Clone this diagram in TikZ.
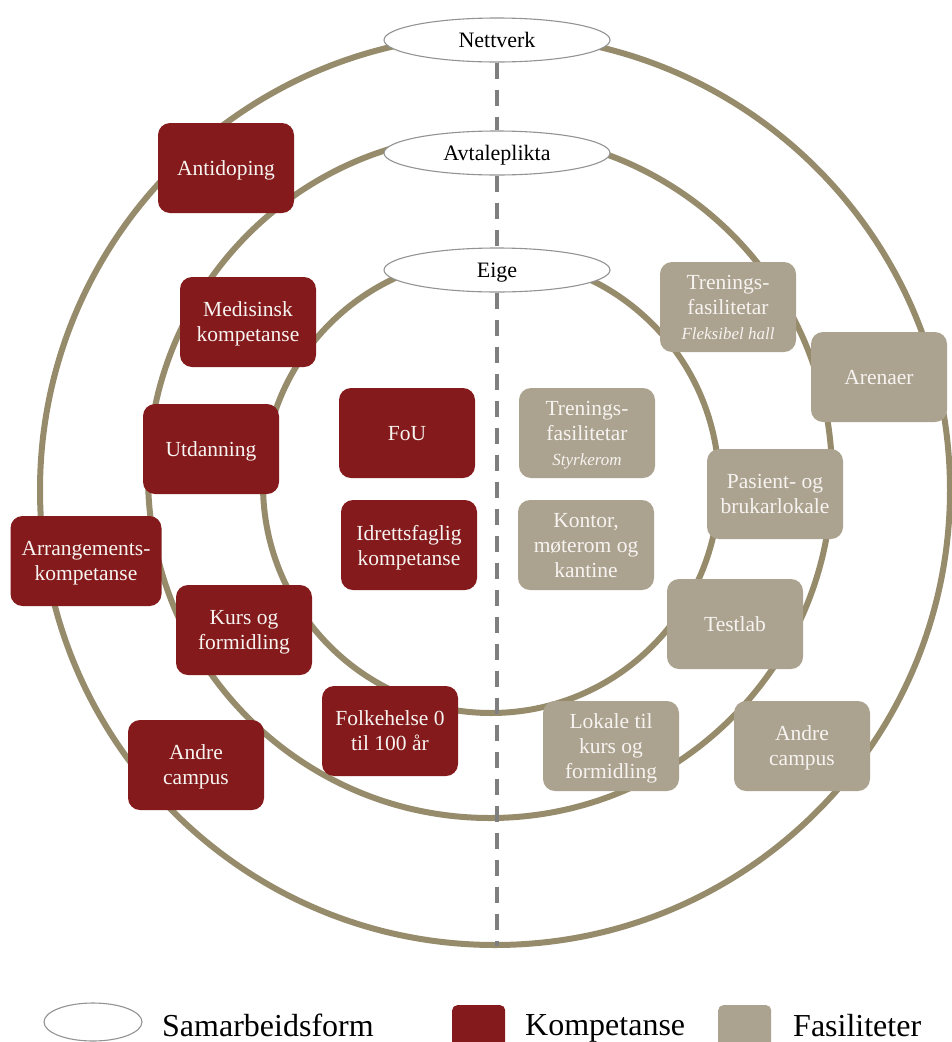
\documentclass[tikz,border=0pt]{standalone}
\usepackage{fontspec}
\setmainfont{Liberation Serif}
\usetikzlibrary{shapes.geometric}
\definecolor{ringc}{HTML}{968B6B}
\definecolor{kompc}{HTML}{841A1B}
\definecolor{fasc}{HTML}{ABA38F}
\definecolor{dashc}{HTML}{7F7F7F}
\definecolor{boxtxt}{HTML}{F7F3F1}
\tikzset{
  ring/.style={draw=ringc, line width=6pt},
  formell/.style={ellipse, draw=gray!85, line width=1.1pt, fill=white, minimum width=226pt, minimum height=44pt, inner sep=0pt, text depth=0pt, font=\fontsize{22}{25}\selectfont},
  boxbase/.style={rounded corners=12pt, minimum width=136pt, minimum height=90pt, inner sep=2pt, align=center, text=boxtxt, text depth=0pt, font=\fontsize{21.5}{25}\selectfont},
  komp/.style={boxbase, fill=kompc},
  fas/.style={boxbase, fill=fasc},
  sep/.style={draw=dashc, line width=4pt, dash pattern=on 16pt off 11pt},
  legtxt/.style={anchor=west, font=\fontsize{32}{36}\selectfont, inner sep=0pt, text depth=0pt}
}
\newcommand{\subit}[1]{{\fontsize{17}{20}\selectfont\itshape #1}}
\begin{document}
\begin{tikzpicture}[x=1pt,y=-1pt]
\useasboundingbox (0,0) rectangle (951,1042);
% rings
\draw[ring] (495,490) circle[radius=455pt];
\draw[ring] (490,476) circle[radius=342pt];
\draw[ring] (491,485) circle[radius=228pt];
% ellipses
\node[formell] (net) at (497,40) {Nettverk};
\node[formell] (avt) at (497,153) {Avtaleplikta};
\node[formell] (eige) at (497,270) {Eige};
\coordinate (dend) at (497,946);
% dashed separator
\draw[sep] (net.south) -- (avt.north);
\draw[sep] (avt.south) -- (eige.north);
\draw[sep] (eige.south) -- (dend);
% Kompetanse
\node[komp] (antidop) at (226,168) {Antidoping};
\node[komp] (medis) at (248,322) {Medisinsk\\kompetanse};
\node[komp] (utd) at (211,449) {Utdanning};
\node[komp, minimum width=151pt] (arr) at (86,561) {Arrangements-\\kompetanse};
\node[komp] (kurs) at (244,630) {Kurs og\\formidling};
\node[komp] (andrek) at (196,765) {Andre\\campus};
\node[komp] (fou) at (407,433) {FoU};
\node[komp] (idr) at (409,545) {Idrettsfaglig\\kompetanse};
\node[komp] (folk) at (390,731) {Folkehelse 0\\til 100 år};
% Fasiliteter
\node[fas] (styrk) at (587,433) {Trenings-\\fasilitetar\\\subit{Styrkerom}};
\node[fas] (kontor) at (586,545) {Kontor,\\møterom og\\kantine};
\node[fas] (lokale) at (611,746) {Lokale til\\kurs og\\formidling};
\node[fas] (andref) at (802,746) {Andre\\campus};
\node[fas] (testlab) at (735,624) {Testlab};
\node[fas] (pasient) at (775,494) {Pasient- og\\brukarlokale};
\node[fas] (arena) at (879,377) {Arenaer};
\node[fas] (fleks) at (728,307) {Trenings-\\fasilitetar\\\subit{Fleksibel hall}};
% Legend
\node[ellipse, draw=gray!85, line width=1.1pt, fill=white, minimum width=98pt, minimum height=38pt] (legell) at (93,1022) {};
\node[legtxt] (legsam) at (162,1025) {Samarbeidsform};
\node[fill=kompc, rounded corners=5pt, minimum width=53pt, minimum height=50pt, inner sep=0pt, anchor=north west] (legkomp) at (452,1005) {};
\node[legtxt] (legk) at (525,1025) {Kompetanse};
\node[fill=fasc, rounded corners=5pt, minimum width=53pt, minimum height=50pt, inner sep=0pt, anchor=north west] (legfas) at (718,1005) {};
\node[legtxt] (legf) at (793,1025) {Fasiliteter};
\end{tikzpicture}
\end{document}
